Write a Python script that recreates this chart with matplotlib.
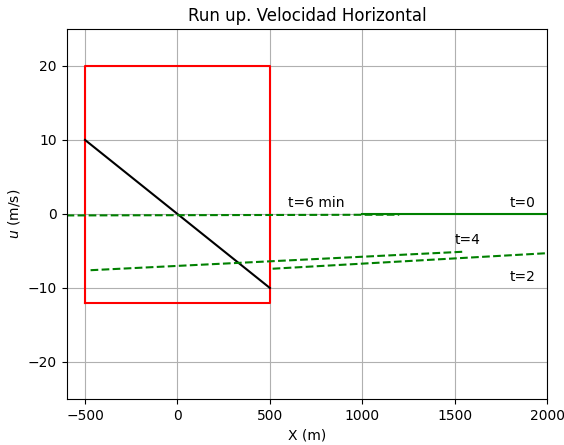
import matplotlib
matplotlib.use('Agg')
import matplotlib.pyplot as plt

# Rectangle outline (region)
rect_x = [-500, 500, 500, -500, -500]
rect_y = [-12, -12, 20, 20, -12]

# Initial linear profile
lin_x = [-500, 500]
lin_y = [10, -10]

# Velocity profiles at different times
t0_x = [1000, 2000]
t0_y = [0.05, 0.05]
t6_x = [-600, 1200]
t6_y = [-0.2, -0.1]
t4_x = [-470, 1550]
t4_y = [-7.6, -5.1]
t2_x = [515, 2000]
t2_y = [-7.4, -5.3]

labels = ['t=6 min', 't=0', 't=4', 't=2']
label_x = [600, 1800, 1500, 1800]
label_y = [1.0, 1.0, -4.0, -9.0]

fig = plt.figure(figsize=(5.64, 4.45), dpi=100)
ax = fig.add_axes([0.118, 0.1034, 0.852, 0.8316])

ax.plot(rect_x, rect_y, 'r-', lw=1.5)
ax.plot(lin_x, lin_y, 'k-', lw=1.5)
ax.plot(t0_x, t0_y, 'g-', lw=1.5)
ax.plot(t6_x, t6_y, 'g--', lw=1.5)
ax.plot(t4_x, t4_y, 'g--', lw=1.5)
ax.plot(t2_x, t2_y, 'g--', lw=1.5)

for lab, x, y in zip(labels, label_x, label_y):
    ax.text(x, y, lab)

ax.set_xlim(-600, 2000)
ax.set_ylim(-25, 25)
ax.set_xticks([-500, 0, 500, 1000, 1500, 2000])
ax.set_yticks([-20, -10, 0, 10, 20])
ax.grid(True)
ax.set_title('Run up. Velocidad Horizontal')
ax.set_xlabel('X (m)')
ax.set_ylabel('$u$ (m/s)')

plt.savefig('out.png', dpi=100)
